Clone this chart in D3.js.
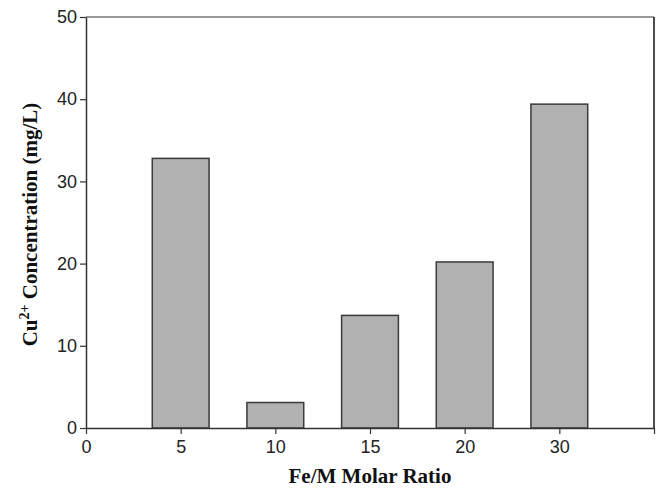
<!DOCTYPE html>
<html>
<head>
<meta charset="utf-8">
<script src="https://cdn.jsdelivr.net/npm/d3@7"></script>
<style>
  body { margin: 0; background: #fff; }
  .tick text { font-family: "Liberation Sans", Arial, sans-serif; font-size: 18px; fill: #222; }
  .title { font-family: "Liberation Serif", "Times New Roman", serif; font-weight: bold; font-size: 21px; fill: #111; }
</style>
</head>
<body>
<div id="chart"></div>
<script>
// Fe/M molar ratio categories, Cu2+ concentration (mg/L)
let ratios = ["5", "10", "15", "20", "30"]
let cuConc = [32.8, 3.1, 13.7, 20.2, 39.4]
let xTickLabels = ["0", "5", "10", "15", "20", "30", ""]
let yTicks = [0, 10, 20, 30, 40, 50]

let margin = { top: 17, right: 7, bottom: 60, left: 86 }
let dims = {
  width: 661 - margin.left - margin.right,
  height: 488 - margin.top - margin.bottom
}

const svg = d3.select("#chart")
  .append("svg")
  .attr("width", 661)
  .attr("height", 488)
  .append("g")
  .attr("transform", `translate(${margin.left},${margin.top})`)

// categories sit at index positions 1..5, axis runs 0..6
let x = d3.scaleLinear()
  .domain([0, 6])
  .range([0, dims.width])

let y = d3.scaleLinear()
  .domain([0, 50])
  .range([dims.height, 0])

let barW = (x(1) - x(0)) * 0.6

svg.selectAll(".bar")
  .data(cuConc)
  .join("rect")
  .attr("class", "bar")
  .attr("x", (d, i) => x(i + 1) - barW / 2)
  .attr("y", d => y(d))
  .attr("width", barW)
  .attr("height", d => dims.height - y(d))
  .attr("fill", "#b1b1b1")
  .attr("stroke", "#3a3a3a")
  .attr("stroke-width", 1.5)

// frame
svg.append("line")
  .attr("x1", 0).attr("x2", dims.width)
  .attr("y1", 0).attr("y2", 0)
  .attr("stroke", "#777").attr("stroke-width", 1.5)
svg.append("line")
  .attr("x1", dims.width).attr("x2", dims.width)
  .attr("y1", 0).attr("y2", dims.height)
  .attr("stroke", "#111").attr("stroke-width", 1.5)

let xAxis = svg.append("g")
  .attr("transform", `translate(0,${dims.height})`)
  .call(d3.axisBottom(x)
    .tickValues(d3.range(0, 7))
    .tickFormat(i => xTickLabels[i])
    .tickSize(6)
    .tickPadding(6)
    .tickSizeOuter(0))

let yAxis = svg.append("g")
  .call(d3.axisLeft(y)
    .tickValues(yTicks)
    .tickSize(6)
    .tickPadding(3)
    .tickSizeOuter(0))

for (let ax of [xAxis, yAxis]) {
  ax.select(".domain").attr("stroke", "#333").attr("stroke-width", 1.5)
  ax.selectAll(".tick line").attr("stroke", "#333").attr("stroke-width", 1.2)
}

svg.append("text")
  .attr("class", "title")
  .attr("font-size", 22.5)
  .attr("text-anchor", "middle")
  .attr("x", x(3))
  .attr("y", dims.height + 55)
  .text("Fe/M Molar Ratio")

let yTitle = svg.append("text")
  .attr("class", "title")
  .attr("text-anchor", "middle")
  .attr("transform", `translate(-49,${y(25) + 2}) rotate(-90)`)
yTitle.append("tspan").text("Cu")
yTitle.append("tspan").attr("dy", -8).attr("font-size", 14).text("2+")
yTitle.append("tspan").attr("dy", 8).text(" Concentration (mg/L)")
</script>
</body>
</html>
